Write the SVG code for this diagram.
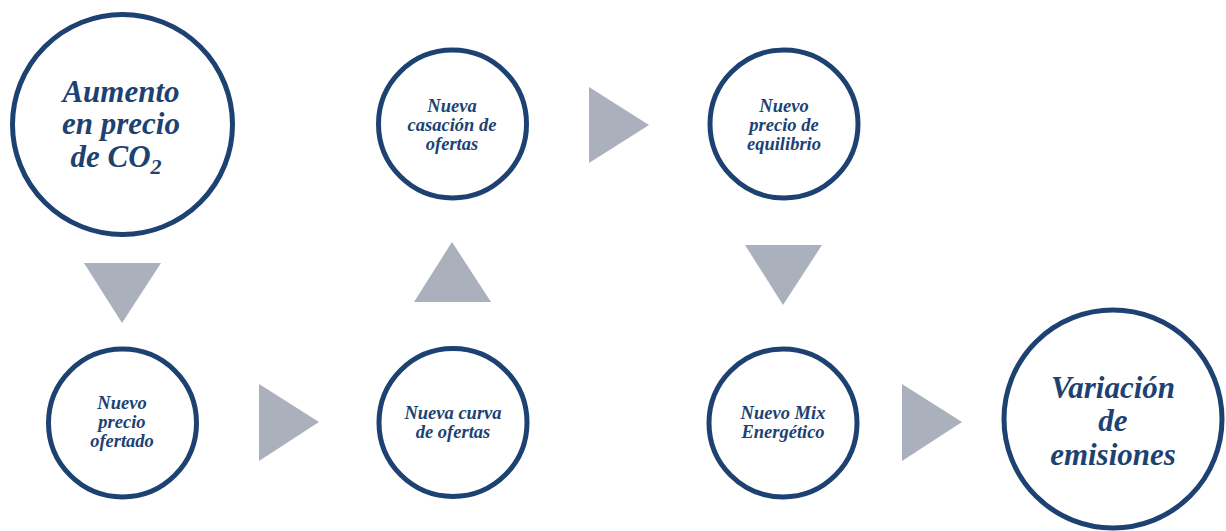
<svg xmlns="http://www.w3.org/2000/svg" width="1226" height="531" viewBox="0 0 1226 531">
  <style>
    .node circle { fill: #ffffff; stroke: #1d4272; stroke-width: 5; }
    .big { font-family: "Liberation Serif", "Times New Roman", serif; font-style: italic; font-weight: bold; font-size: 31px; fill: #1d4272; text-anchor: middle; }
    .small { font-family: "Liberation Serif", "Times New Roman", serif; font-style: italic; font-weight: bold; font-size: 18.5px; fill: #1d4272; text-anchor: middle; }
    .arrow { fill: #abb0bd; }
  </style>
  <rect width="1226" height="531" fill="#ffffff"/>

  <g id="connectors">
    <polygon class="arrow" points="84,263 161,263 122,323"/>
    <polygon class="arrow" points="259,384 259,461 319,422"/>
    <polygon class="arrow" points="414,302 491,302 452,242"/>
    <polygon class="arrow" points="589,87 589,163 649,125"/>
    <polygon class="arrow" points="745,245 822,245 783,305"/>
    <polygon class="arrow" points="902,384 902,461 962,422"/>
  </g>

  <g id="node-aumento" class="node">
    <circle cx="122.5" cy="124.5" r="110"/>
    <text class="big" x="121" y="102">Aumento</text>
    <text class="big" x="121" y="134">en precio</text>
    <text class="big" x="116" y="167">de CO<tspan font-size="22px" dy="7">2</tspan></text>
  </g>

  <g id="node-casacion" class="node">
    <circle cx="452.5" cy="124" r="74"/>
    <text class="small" x="452" y="112">Nueva</text>
    <text class="small" x="452" y="131">casación de</text>
    <text class="small" x="452" y="150">ofertas</text>
  </g>

  <g id="node-equilibrio" class="node">
    <circle cx="784" cy="124" r="74"/>
    <text class="small" x="784" y="112">Nuevo</text>
    <text class="small" x="784" y="131">precio de</text>
    <text class="small" x="784" y="150">equilibrio</text>
  </g>

  <g id="node-ofertado" class="node">
    <circle cx="122.5" cy="423" r="74"/>
    <text class="small" x="122" y="409">Nuevo</text>
    <text class="small" x="122" y="428">precio</text>
    <text class="small" x="122" y="447">ofertado</text>
  </g>

  <g id="node-curva" class="node">
    <circle cx="453" cy="422.5" r="74"/>
    <text class="small" x="453" y="419">Nueva curva</text>
    <text class="small" x="453" y="438">de ofertas</text>
  </g>

  <g id="node-mix" class="node">
    <circle cx="783" cy="423" r="74"/>
    <text class="small" x="783" y="419">Nuevo Mix</text>
    <text class="small" x="783" y="438">Energético</text>
  </g>

  <g id="node-emisiones" class="node">
    <circle cx="1113" cy="419" r="109"/>
    <text class="big" x="1113" y="398">Variación</text>
    <text class="big" x="1113" y="431">de</text>
    <text class="big" x="1113" y="465">emisiones</text>
  </g>
</svg>
